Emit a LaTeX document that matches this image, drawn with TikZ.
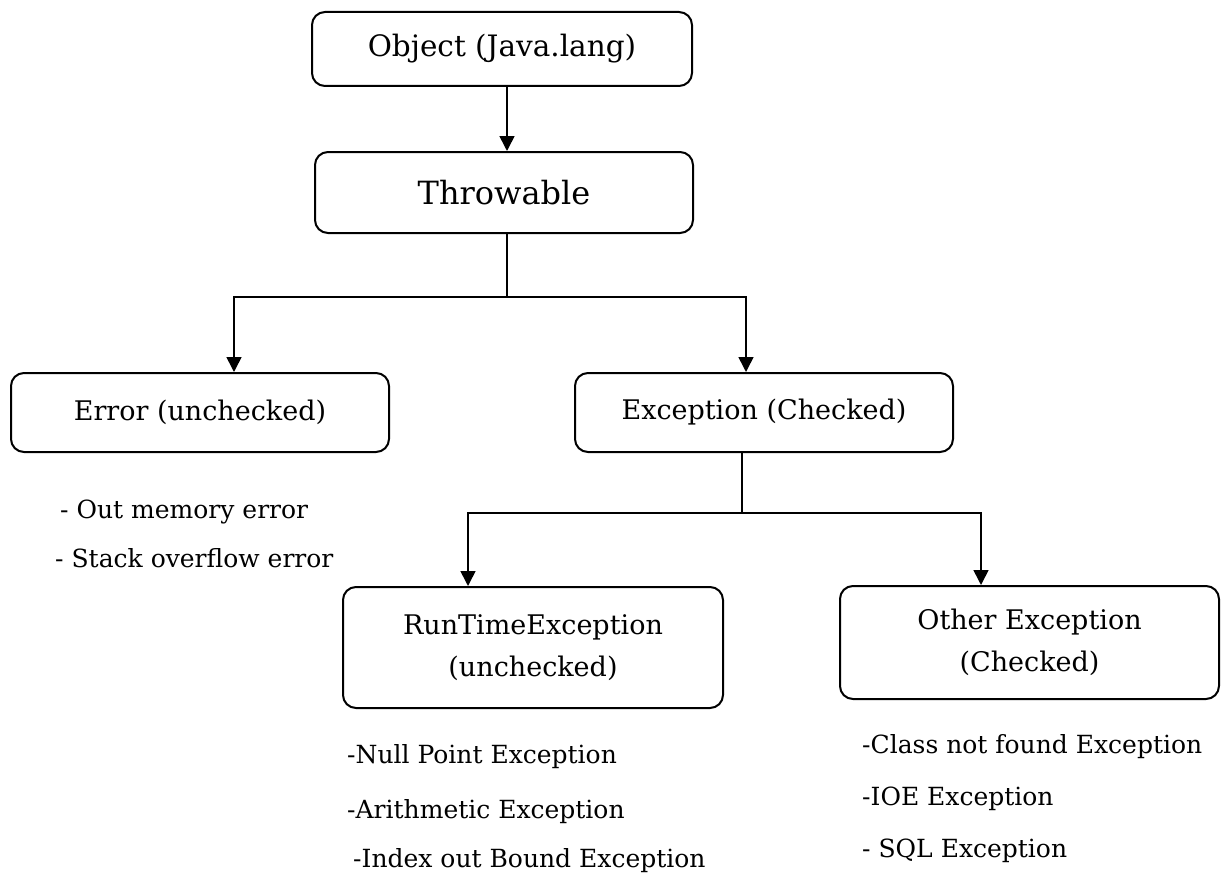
\documentclass[tikz,border=0pt]{standalone}
\usepackage{fontspec}
\setmainfont{DejaVu Serif}
\usetikzlibrary{arrows.meta}
\begin{document}
\begin{tikzpicture}[x=1pt,y=-1pt,
  classbox/.style={draw, line width=2pt, rounded corners=13pt, inner sep=0pt,
    align=center, font=\fontsize{27}{42}\selectfont},
  link/.style={line width=1.6pt},
  arr/.style={link, -{Triangle[width=15pt,length=15pt]}},
  item/.style={anchor=base west, inner sep=0pt, font=\fontsize{25}{30}\selectfont}]
\useasboundingbox (0,0) rectangle (1221,875);

% class boxes
\node[classbox, minimum width=380pt, minimum height=74pt,
      font=\fontsize{29.5}{36}\selectfont] (obj) at (502,49) {Object (Java.lang)};
\node[classbox, minimum width=378pt, minimum height=81pt,
      font=\fontsize{32}{38}\selectfont] (thr) at (504,192.5) {Throwable};
\node[classbox, minimum width=378pt, minimum height=79pt] (err) at (200,412.5) {Error (unchecked)};
\node[classbox, minimum width=378pt, minimum height=79pt] (exc) at (764,412.5) {Exception (Checked)};
\node[classbox, minimum width=380pt, minimum height=121pt] (rt) at (533,647.5) {RunTimeException\\(unchecked)};
\node[classbox, minimum width=379pt, minimum height=113pt] (oth) at (1029.5,642.5) {Other Exception\\(Checked)};

% junctions of the branching connectors
\coordinate (j1) at (507,297);
\coordinate (j2) at (742,513);

% connectors
\draw[arr] ([xshift=5pt]obj.south) -- ([xshift=5pt]obj.south |- thr.north);
\draw[link] (thr.south -| j1) -- (j1);
\draw[arr] (j1) -| ([xshift=34pt]err.north);
\draw[arr] (j1) -| ([xshift=-18pt]exc.north);
\draw[link] (exc.south -| j2) -- (j2);
\draw[arr] (j2) -| ([xshift=-65pt]rt.north);
\draw[arr] (j2) -| ([xshift=-48.5pt]oth.north);

% examples under each class
\node[item] (e1) at (60,518) {- Out memory error};
\node[item] (e2) at (55,567) {- Stack overflow error};
\node[item] (r1) at (347,763) {-Null Point Exception};
\node[item] (r2) at (347,818) {-Arithmetic Exception};
\node[item] (r3) at (353,867) {-Index out Bound Exception};
\node[item] (o1) at (862,753) {-Class not found Exception};
\node[item] (o2) at (862,805) {-IOE Exception};
\node[item] (o3) at (862,857) {- SQL Exception};
\end{tikzpicture}
\end{document}
